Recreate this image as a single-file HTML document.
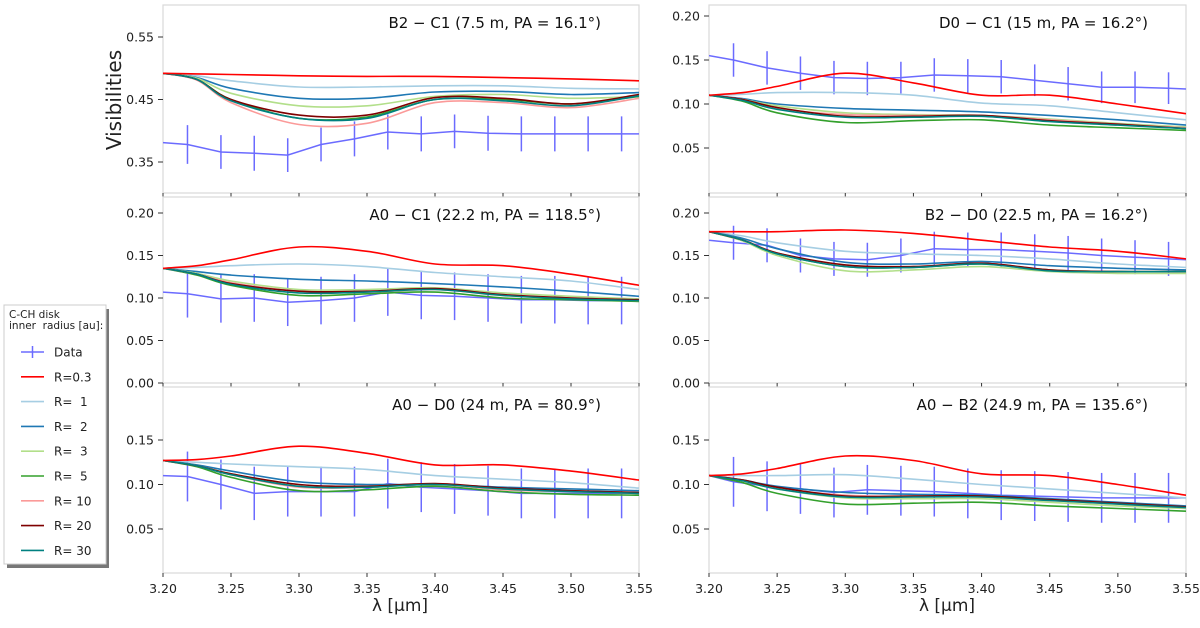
<!DOCTYPE html>
<html><head><meta charset="utf-8">
<style>
body{margin:0;background:#fff;width:1200px;height:623px;overflow:hidden;font-family:"Liberation Sans","DejaVu Sans",sans-serif;}
svg text{font-family:"DejaVu Sans","Liberation Sans",sans-serif;}
</style></head>
<body>
<svg id="chart" width="1200" height="623" viewBox="0 0 1200 623" xmlns="http://www.w3.org/2000/svg"></svg>
<script>
const modelX = [3.20,3.225,3.25,3.30,3.35,3.40,3.45,3.50,3.55];
const dataX = [3.20,3.218,3.2426,3.2671,3.2917,3.3162,3.3408,3.3653,3.3899,3.4144,3.4390,3.4635,3.4881,3.5126,3.5372,3.55];
const seriesNames = ["R=0.3","R=  1","R=  2","R=  3","R=  5","R= 10","R= 20","R= 30"];
const seriesColors = ["#ff0000","#a6cee3","#1f78b4","#b2df8a","#33a02c","#fb9a99","#7f0000","#008080"];
const xTicks = [3.20,3.25,3.30,3.35,3.40,3.45,3.50,3.55];
const panelTitles = ["B2 − C1 (7.5 m, PA = 16.1°)","D0 − C1 (15 m, PA = 16.2°)","A0 − C1 (22.2 m, PA = 118.5°)","B2 − D0 (22.5 m, PA = 16.2°)","A0 − D0 (24 m, PA = 80.9°)","A0 − B2 (24.9 m, PA = 135.6°)"];
const yTicks = [[0.35,0.45,0.55],[0.05,0.10,0.15,0.20],[0.00,0.05,0.10,0.15,0.20],[0.00,0.05,0.10,0.15,0.20],[0.05,0.10,0.15],[0.05,0.10,0.15]];
const data0 = [.381,.378,.366,.364,.361,.378,.387,.398,.395,.399,.396,.395,.395,.395,.395,.395];
const err0 = [0,.031,.027,.028,.027,.027,.028,.028,.028,.027,.028,.028,.028,.028,.028,0];
const data1 = [.155,.150,.141,.135,.130,.129,.130,.133,.132,.131,.127,.123,.119,.119,.118,.117];
const err1 = [0,.019,.019,.019,.019,.019,.018,.019,.019,.019,.018,.019,.018,.018,.018,0];
const data2 = [.107,.105,.099,.100,.095,.097,.100,.107,.103,.102,.100,.098,.098,.097,.097,.097];
const err2 = [0,.028,.028,.028,.028,.028,.028,.028,.028,.028,.028,.028,.028,.028,.028,0];
const data3 = [.168,.165,.162,.150,.146,.145,.150,.158,.157,.157,.155,.153,.150,.148,.146,.145];
const err3 = [0,.02,.02,.02,.02,.02,.02,.02,.02,.02,.02,.02,.02,.02,.02,0];
const data4 = [.110,.109,.100,.090,.092,.092,.092,.101,.097,.095,.093,.090,.090,.090,.090,.090];
const err4 = [0,.028,.028,.03,.028,.028,.028,.028,.028,.028,.028,.028,.028,.028,.028,0];
const data5 = [.110,.103,.098,.095,.091,.094,.093,.092,.090,.088,.087,.086,.085,.085,.085,.085];
const err5 = [0,.028,.028,.028,.028,.028,.028,.028,.028,.028,.028,.028,.028,.028,.028,0];
const model0 = [
[.492,.491,.490,.488,.487,.487,.485,.483,.480],
[.492,.488,.480,.470,.470,.472,.472,.468,.467],
[.492,.485,.468,.452,.452,.462,.463,.458,.461],
[.492,.484,.460,.440,.440,.455,.458,.452,.455],
[.492,.482,.450,.420,.422,.450,.450,.443,.455],
[.492,.481,.445,.410,.412,.445,.445,.437,.452],
[.492,.482,.450,.425,.425,.453,.452,.443,.458],
[.492,.482,.448,.420,.420,.450,.448,.440,.456]];
const model1 = [
[.110,.113,.120,.135,.124,.110,.110,.100,.089],
[.110,.111,.113,.113,.110,.101,.098,.090,.082],
[.110,.106,.100,.095,.093,.091,.087,.082,.076],
[.110,.105,.098,.090,.088,.087,.083,.078,.074],
[.110,.103,.090,.079,.081,.082,.076,.073,.070],
[.110,.105,.095,.088,.087,.087,.082,.077,.073],
[.110,.105,.096,.086,.086,.087,.081,.077,.072],
[.110,.104,.094,.085,.085,.086,.080,.076,.072]];
const model2 = [
[.135,.138,.145,.160,.155,.140,.138,.128,.115],
[.135,.136,.138,.140,.137,.130,.125,.120,.110],
[.135,.131,.127,.122,.120,.117,.113,.108,.102],
[.135,.129,.120,.110,.110,.112,.106,.102,.099],
[.135,.127,.115,.103,.105,.107,.100,.098,.096],
[.135,.128,.118,.108,.107,.110,.103,.100,.097],
[.135,.128,.117,.108,.108,.111,.104,.100,.098],
[.135,.128,.116,.106,.107,.110,.103,.099,.097]];
const model3 = [
[.178,.178,.178,.180,.176,.168,.160,.155,.146],
[.178,.173,.165,.155,.152,.150,.146,.140,.136],
[.178,.170,.158,.142,.140,.143,.138,.135,.133],
[.178,.167,.150,.132,.133,.137,.131,.129,.129],
[.178,.168,.152,.137,.136,.140,.133,.131,.131],
[.178,.168,.153,.138,.137,.141,.133,.131,.131],
[.178,.168,.153,.139,.137,.141,.133,.131,.131],
[.178,.168,.152,.137,.136,.140,.132,.131,.131]];
const model4 = [
[.127,.128,.132,.143,.135,.122,.122,.115,.105],
[.127,.125,.123,.120,.117,.110,.106,.102,.096],
[.127,.122,.115,.103,.100,.100,.097,.095,.093],
[.127,.121,.112,.098,.098,.100,.095,.093,.091],
[.127,.120,.108,.093,.094,.098,.092,.089,.088],
[.127,.121,.111,.097,.097,.100,.094,.092,.090],
[.127,.121,.112,.100,.098,.101,.096,.093,.091],
[.127,.121,.111,.098,.097,.100,.095,.092,.090]];
const model5 = [
[.110,.112,.118,.132,.127,.112,.110,.100,.088],
[.110,.110,.110,.111,.106,.100,.095,.090,.085],
[.110,.105,.098,.091,.089,.088,.084,.080,.076],
[.110,.104,.095,.085,.084,.084,.080,.076,.073],
[.110,.102,.090,.078,.079,.080,.076,.073,.070],
[.110,.105,.096,.088,.087,.086,.082,.078,.074],
[.110,.105,.097,.087,.087,.087,.083,.079,.075],
[.110,.104,.095,.086,.086,.086,.082,.078,.074]];

const allData=[data0,data1,data2,data3,data4,data5];
const allErr=[err0,err1,err2,err3,err4,err5];
const allModel=[model0,model1,model2,model3,model4,model5];
const boxes=[
 {x0:163,x1:639,y0:5,y1:193,a:[0.55,37],b:[0.35,162]},
 {x0:709,x1:1186,y0:5,y1:193,a:[0.20,16],b:[0.05,148]},
 {x0:163,x1:639,y0:197,y1:383,a:[0.20,213],b:[0.00,383]},
 {x0:709,x1:1186,y0:197,y1:383,a:[0.20,213],b:[0.00,383]},
 {x0:163,x1:639,y0:387,y1:573,a:[0.15,440],b:[0.05,529]},
 {x0:709,x1:1186,y0:387,y1:573,a:[0.15,440],b:[0.05,529]}];
const svg=document.getElementById('chart');
const NS='http://www.w3.org/2000/svg';
function mk(tag,attrs,parent){const e=document.createElementNS(NS,tag);for(const k in attrs)e.setAttribute(k,attrs[k]);(parent||svg).appendChild(e);return e;}
function smooth(pts){let d='M'+pts[0][0].toFixed(1)+','+pts[0][1].toFixed(1);
 for(let i=0;i<pts.length-1;i++){const p0=pts[Math.max(0,i-1)],p1=pts[i],p2=pts[i+1],p3=pts[Math.min(pts.length-1,i+2)];
 const c1=[p1[0]+(p2[0]-p0[0])/6,p1[1]+(p2[1]-p0[1])/6],c2=[p2[0]-(p3[0]-p1[0])/6,p2[1]-(p3[1]-p1[1])/6];
 d+=' C'+c1[0].toFixed(1)+','+c1[1].toFixed(1)+' '+c2[0].toFixed(1)+','+c2[1].toFixed(1)+' '+p2[0].toFixed(1)+','+p2[1].toFixed(1);}
 return d;}
boxes.forEach((bx,pi)=>{
 const xs=v=>bx.x0+(v-3.20)/0.35*(bx.x1-bx.x0);
 const ys=v=>bx.a[1]+(v-bx.a[0])*(bx.b[1]-bx.a[1])/(bx.b[0]-bx.a[0]);
 const g=mk('g',{});
 
 
 const fr=mk('rect',{x:bx.x0,y:bx.y0,width:bx.x1-bx.x0,height:bx.y1-bx.y0,fill:'#fff',stroke:'#d9d9d9','stroke-width':1.2},g);
 
 
 yTicks[pi].forEach(t=>{const y=ys(t);
  mk('line',{x1:bx.x0-5,x2:bx.x0,y1:y,y2:y,stroke:'#333','stroke-width':1},g);
  const tx=mk('text',{x:bx.x0-9,y:y+4.5,'font-size':12.5,'text-anchor':'end',fill:'#222'},g);
  tx.textContent=t.toFixed(2);
  
  });
 xTicks.forEach(t=>{const x=xs(t);
  mk('line',{x1:x,x2:x,y1:bx.y1,y2:bx.y1+4,stroke:'#333','stroke-width':1},g);
  if(pi>=4){const tx=mk('text',{x:x,y:593,'font-size':12.5,'text-anchor':'middle',fill:'#222'},g);
   tx.textContent=t.toFixed(2);
   
   }});
 const clip=mk('clipPath',{id:'c'+pi},g);mk('rect',{x:bx.x0,y:bx.y0,width:bx.x1-bx.x0,height:bx.y1-bx.y0},clip);
 const lg=mk('g',{'clip-path':'url(#c'+pi+')'},g);
 const dpts=dataX.map((x,i)=>xs(x).toFixed(1)+','+ys(allData[pi][i]).toFixed(1)).join(' ');
 const dl=mk('polyline',{points:dpts,fill:'none',stroke:'#6b6bff','stroke-width':1.5},lg);
 
 
 dataX.forEach((x,i)=>{const e=allErr[pi][i];if(e>0){
  const el=mk('line',{x1:xs(x),x2:xs(x),y1:ys(allData[pi][i]-e),y2:ys(allData[pi][i]+e),stroke:'#6b6bff','stroke-width':1.5},lg);
  
  }});
 const order=[1,2,3,4,5,6,7,0];
 order.forEach(si=>{const pts=modelX.map((x,i)=>[xs(x),ys(allModel[pi][si][i])]);
  const p=mk('path',{d:smooth(pts),fill:'none',stroke:seriesColors[si],'stroke-width':1.6},lg);
  
  });
 const tt=mk('text',{x:bx.x1-38,y:bx.y0+23,'font-size':15,'text-anchor':'end',fill:'#111'},g);
 tt.textContent=panelTitles[pi];
 
 
});
let t=mk('text',{x:0,y:0,'font-size':20,'text-anchor':'middle',fill:'#222',transform:'translate(121,100) rotate(-90)'});
t.textContent='Visibilities';


[400,947].forEach(cx=>{const l=mk('text',{x:cx,y:611,'font-size':17,'text-anchor':'middle',fill:'#222'});
 l.textContent='λ [μm]';
 
 });
const lgd=mk('g',{});


mk('rect',{x:7,y:309,width:102,height:259,fill:'#777'},lgd);
mk('rect',{x:4,y:305,width:102,height:259,fill:'#fff',stroke:'#ccc','stroke-width':1},lgd);
let h=mk('text',{x:9,y:318,'font-size':10.5,fill:'#222'},lgd);h.textContent='C-CH disk';
h=mk('text',{x:9,y:329,'font-size':10.5,fill:'#222'},lgd);h.textContent='inner  radius [au]:';
h.setAttribute('xml:space','preserve');h.style.whiteSpace='pre';
const entries=['Data'].concat(seriesNames);
entries.forEach((n,i)=>{const y=352+i*24.8;
 const eg=mk('g',{},lgd);
 
 
 const c=i==0?'#6b6bff':seriesColors[i-1];
 mk('line',{x1:21,x2:44,y1:y,y2:y,stroke:c,'stroke-width':1.6},eg);
 if(i==0)mk('line',{x1:32.5,x2:32.5,y1:y-6,y2:y+6,stroke:c,'stroke-width':1.5},eg);
 const tx=mk('text',{x:54,y:y+4.5,'font-size':12,fill:'#222'},eg);tx.textContent=n;
 tx.setAttribute('xml:space','preserve');tx.style.whiteSpace='pre';});
</script>
</body></html>
